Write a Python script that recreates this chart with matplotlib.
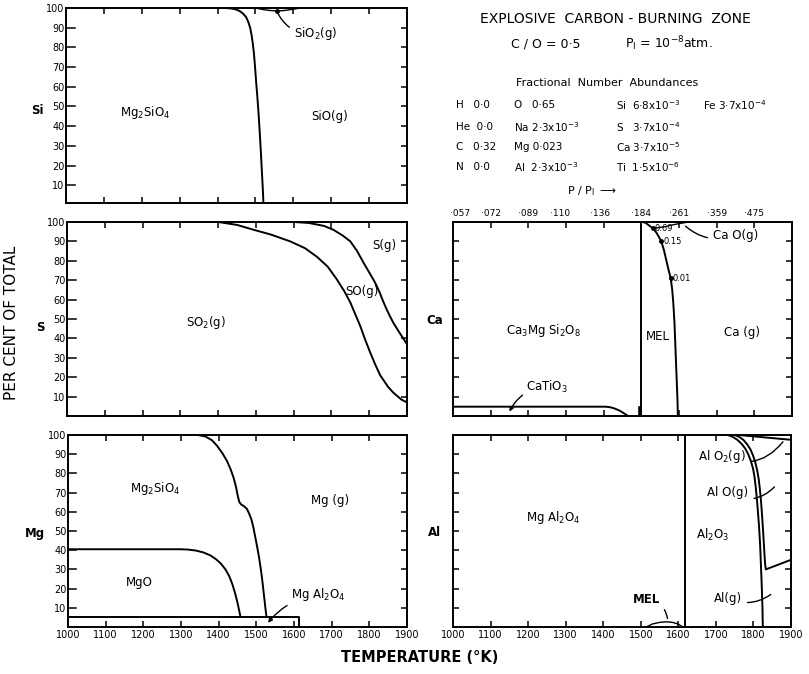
import matplotlib
matplotlib.use('Agg')
import matplotlib.pyplot as plt

plt.rcParams['font.family'] = ['DejaVu Sans']
plt.rcParams['mathtext.fontset'] = 'dejavusans'

# ---------------- data ----------------
temps = [1000, 1100, 1200, 1300, 1400, 1500, 1600, 1700, 1800, 1900]
pct_ticks = [10, 20, 30, 40, 50, 60, 70, 80, 90, 100]

# Si panel
si_bound_T = [1400, 1420, 1435, 1448, 1458, 1467, 1475, 1481, 1486, 1490, 1493, 1496, 1499,
              1502, 1505, 1508, 1511, 1514, 1517, 1520, 1521]
si_bound_P = [100, 100, 99.8, 99.3, 98.5, 97.2, 95.5, 93, 90, 86, 82, 77, 70,
              62, 55, 47, 38, 28, 17, 6, 1]
sio2_T = [1500, 1520, 1540, 1556, 1575, 1600, 1620]
sio2_P = [100, 99.2, 98.7, 98.5, 98.7, 99.4, 100]

# S panel
so_T = [1400, 1450, 1494, 1540, 1591, 1630, 1662, 1690, 1714, 1735, 1750, 1763, 1776, 1789,
        1802, 1816, 1829, 1850, 1864, 1885, 1900]
so_P = [100, 98.5, 96, 93.5, 90, 86.5, 82, 77, 70.5, 64, 58.5, 52.5, 46.5, 39.5,
        33, 26.5, 21, 15, 12, 8.5, 7]
sg_T = [1600, 1640, 1680, 1705, 1730, 1750, 1768, 1785, 1800, 1812, 1820, 1828, 1835, 1846,
        1856, 1864, 1880, 1900]
sg_P = [100, 99.5, 98, 96, 93, 90, 85, 79, 74, 70, 67, 63.5, 60, 55,
        51, 48, 43, 37]

# Mg panel
mg_gas_T = [1345, 1365, 1382, 1396, 1410, 1422, 1432, 1440, 1446, 1451, 1455, 1460, 1468,
            1475, 1481, 1487, 1492, 1497, 1502, 1507, 1512, 1516, 1520, 1524, 1527]
mg_gas_P = [100, 99.2, 97.3, 94.3, 90.5, 86.5, 82, 77.5, 73, 68, 65, 63.8, 62.8,
            61.5, 59, 56, 52, 47, 42, 36.5, 30, 24, 17, 10, 5.2]
mgo_T = [1000, 1300, 1320, 1340, 1360, 1378, 1393, 1406, 1418, 1428, 1436, 1443, 1449, 1454, 1458]
mgo_P = [40.5, 40.5, 40.3, 39.8, 38.8, 37.3, 35.3, 33, 30, 26.5, 22.5, 18, 13.5, 9, 5.2]
mgal_T = [1000, 1612, 1612]
mgal_P = [5.2, 5.2, 0]

# Ca panel
mel_T = [1498, 1498]
mel_P = [0, 100]
catio3_T = [1000, 1405, 1418, 1430, 1442, 1453, 1465]
catio3_P = [4.8, 4.8, 4.5, 3.8, 2.8, 1.5, 0]
cag_T = [1504, 1512, 1520, 1531, 1540, 1547, 1553, 1560, 1566, 1572, 1578, 1582, 1585,
         1588, 1590, 1592, 1594, 1596, 1597]
cag_P = [100, 99.5, 98.3, 96.7, 94.5, 92.2, 90, 85.5, 80.5, 75.5, 71, 65, 58,
         48, 38, 28, 18, 8, 0]
cao_T = [1531, 1560, 1590, 1610, 1625]
cao_P = [96.7, 97.5, 98.8, 99.5, 100]
ppi_T = [1553, 1531, 1578]
ppi_P = [90, 96.7, 71]
ppi_lab = ['0.15', '0.69', '0.01']
top_T = [1020, 1100, 1200, 1285, 1390, 1500, 1600, 1700, 1800]
top_lab = ['·057', '·072', '·089', '·110', '·136', '·184', '·261', '·359', '·475']

# Al panel
alwall_T = [1619, 1619]
alwall_P = [0, 100]
mellens_T = [1515, 1530, 1550, 1568, 1585, 1600, 1612]
mellens_P = [0, 1.5, 2.4, 2.7, 2.4, 1.5, 0]
alout_T = [1732, 1745, 1757, 1768, 1778, 1786, 1793, 1799, 1803, 1806, 1809, 1812, 1815,
           1818, 1820, 1822, 1824, 1825]
alout_P = [100, 99, 97.5, 95.5, 93, 90, 86.5, 82.5, 78, 73, 67, 60, 52,
           42, 32, 22, 10, 0]
alin_T = [1750, 1762, 1773, 1783, 1792, 1799, 1805, 1810, 1814, 1817, 1820, 1823, 1826,
          1829, 1831, 1833, 1900]
alin_P = [100, 99, 97.5, 95.2, 92.5, 89.3, 85.7, 81.5, 77, 72, 66, 58, 49,
          39, 33, 30, 35]
alo2_T = [1760, 1900]
alo2_P = [100, 97.5]

# ---------------- layout ----------------
W, H = 809, 674
fig = plt.figure(figsize=(W / 100, H / 100), dpi=100)


def px_axes(l, t, r, b):
    return fig.add_axes([l / W, 1 - b / H, (r - l) / W, (b - t) / H])


ax_si = px_axes(66, 8, 407, 203)
ax_s = px_axes(67, 222, 407, 416)
ax_mg = px_axes(68, 435, 407, 627)
ax_ca = px_axes(453, 222, 792, 416)
ax_al = px_axes(453, 435, 791, 627)

LW = 1.4
TK = 7
for ax in (ax_si, ax_s, ax_mg, ax_ca, ax_al):
    ax.set_xlim(temps[0], temps[-1])
    ax.set_ylim(0, 100)
    for sp in ax.spines.values():
        sp.set_linewidth(1.4)
    ax.set_xticks(temps[1:-1])
    ax.tick_params(axis='x', direction='in', top=True, bottom=True, length=4, width=1.1,
                   labelbottom=False, pad=2, labelsize=TK)
    ax.tick_params(axis='y', direction='in', left=True, right=True, length=4, width=1.1,
                   labelleft=False)
ax_si.set_ylim(1, 100)

for ax in (ax_si, ax_s, ax_mg):
    ax.set_yticks(pct_ticks)
    ax.tick_params(axis='y', which='both', labelleft=True, labelsize=TK, pad=1)
    ax.tick_params(axis='y', left=False)
    for v in pct_ticks[:-1]:
        ax.plot([0, 0.025], [v, v], transform=ax.get_yaxis_transform(), color='black',
                lw=1.1, clip_on=False)
for ax in (ax_ca, ax_al):
    ax.set_yticks(pct_ticks[:-1])

for ax in (ax_mg, ax_al):
    ax.set_xticks(temps)
    ax.tick_params(axis='x', labelbottom=True)
    for i in (0, -1):
        ax.xaxis.get_major_ticks()[i].tick1line.set_visible(False)
        ax.xaxis.get_major_ticks()[i].tick2line.set_visible(False)

kw = dict(color='black', lw=LW, solid_joinstyle='round')
fs = 8.5

# Si
ax_si.plot(si_bound_T, si_bound_P, **kw)
ax_si.plot(sio2_T, sio2_P, color='black', lw=1.0)
ax_si.plot([1556], [98.5], 'o', color='black', ms=2.5)
ax_si.annotate(r'SiO$_2$(g)', xy=(1556, 98.5), xytext=(1603, 87), fontsize=fs, va='center',
               arrowprops=dict(arrowstyle='-', color='black', lw=1.0, shrinkA=2, shrinkB=0,
                               connectionstyle='arc3,rad=-0.35'))
ax_si.text(1210, 47, r'Mg$_2$SiO$_4$', fontsize=fs, ha='center', va='center')
ax_si.text(1697, 45, 'SiO(g)', fontsize=fs, ha='center', va='center')

# S
ax_s.plot(so_T, so_P, **kw)
ax_s.plot(sg_T, sg_P, **kw)
ax_s.text(1840, 88, 'S(g)', fontsize=fs, ha='center', va='center')
ax_s.text(1782, 64, 'SO(g)', fontsize=fs, ha='center', va='center')
ax_s.text(1367, 48, r'SO$_2$(g)', fontsize=fs, ha='center', va='center')

# Mg
ax_mg.plot(mg_gas_T, mg_gas_P, **kw)
ax_mg.plot(mgo_T, mgo_P, **kw)
ax_mg.plot(mgal_T, mgal_P, **kw)
ax_mg.text(1232, 72, r'Mg$_2$SiO$_4$', fontsize=fs, ha='center', va='center')
ax_mg.text(1695, 66, 'Mg (g)', fontsize=fs, ha='center', va='center')
ax_mg.text(1190, 23, 'MgO', fontsize=fs, ha='center', va='center')
ax_mg.annotate(r'Mg Al$_2$O$_4$', xy=(1531, 2.2), xytext=(1592, 17), fontsize=fs, va='center',
               arrowprops=dict(arrowstyle='-|>', color='black', lw=1.0, mutation_scale=6,
                               shrinkA=1, shrinkB=0, connectionstyle='arc3,rad=0.2'))

# Ca
ax_ca.plot(mel_T, mel_P, **kw)
ax_ca.plot([1497, 1497], [0, 4], color='black', lw=2.6)
ax_ca.plot(catio3_T, catio3_P, **kw)
ax_ca.plot(cag_T, cag_P, **kw)
ax_ca.plot(cao_T, cao_P, color='black', lw=1.0)
ax_ca.plot(ppi_T, ppi_P, 'o', color='black', ms=2.5)
for t, p, s in zip(ppi_T, ppi_P, ppi_lab):
    ax_ca.text(t + 5, p, s, fontsize=6, va='center', ha='left')
ax_ca.annotate('Ca O(g)', xy=(1612, 98.8), xytext=(1690, 93), fontsize=fs, va='center',
               arrowprops=dict(arrowstyle='-', color='black', lw=1.0,
                               connectionstyle='arc3,rad=-0.3'))
ax_ca.annotate(r'CaTiO$_3$', xy=(1150, 2.2), xytext=(1195, 15), fontsize=fs, va='center',
               arrowprops=dict(arrowstyle='-|>', color='black', lw=1.0, mutation_scale=6,
                               shrinkA=1, shrinkB=0, connectionstyle='arc3,rad=0.3'))
ax_ca.text(1240, 44, r'Ca$_3$Mg Si$_2$O$_8$', fontsize=fs, ha='center', va='center')
ax_ca.text(1544, 41, 'MEL', fontsize=fs, ha='center', va='center')
ax_ca.text(1766, 43, 'Ca (g)', fontsize=fs, ha='center', va='center')
for t, s in zip(top_T, top_lab):
    ax_ca.text(t, 1.045, s, fontsize=6.5, ha='center', va='center',
               transform=ax_ca.get_xaxis_transform())

# Al
ax_al.plot(alwall_T, alwall_P, **kw)
ax_al.plot(mellens_T, mellens_P, color='black', lw=1.0)
ax_al.plot(alout_T, alout_P, **kw)
ax_al.plot(alin_T, alin_P, **kw)
ax_al.plot(alo2_T, alo2_P, **kw)
ann = dict(arrowstyle='-', color='black', lw=1.0)
ax_al.annotate(r'Al O$_2$(g)', xy=(1883, 97.6), xytext=(1715, 89), fontsize=fs, ha='center',
               va='center', arrowprops=dict(ann, connectionstyle='arc3,rad=0.4'))
ax_al.annotate('Al O(g)', xy=(1861, 74), xytext=(1732, 70), fontsize=fs, ha='center',
               va='center', arrowprops=dict(ann, connectionstyle='arc3,rad=0.4'))
ax_al.annotate('Al(g)', xy=(1852, 17.8), xytext=(1732, 15), fontsize=fs, ha='center',
               va='center', arrowprops=dict(ann, connectionstyle='arc3,rad=0.3'))
ax_al.annotate('MEL', xy=(1572, 3), xytext=(1515, 14.5), fontsize=fs, ha='center',
               va='center', fontweight='bold',
               arrowprops=dict(ann, connectionstyle='arc3,rad=-0.4'))
ax_al.text(1266, 57, r'Mg Al$_2$O$_4$', fontsize=fs, ha='center', va='center')
ax_al.text(1692, 48, r'Al$_2$O$_3$', fontsize=fs, ha='center', va='center')


# element labels
def ftext(x, y, s, **k):
    fig.text(x / W, 1 - y / H, s, **k)


el = dict(fontsize=8.5, fontweight='bold', ha='center', va='center')
ftext(37, 111, 'Si', **el)
ftext(40, 327, 'S', **el)
ftext(35, 533, 'Mg', **el)
ftext(435, 320, 'Ca', **el)
ftext(434, 532, 'Al', **el)

ftext(12, 323, 'PER CENT OF TOTAL', fontsize=11, rotation=90, ha='center', va='center')
ftext(420, 657, 'TEMPERATURE (°K)', fontsize=10.5, fontweight='bold', ha='center', va='center')

# header text
ftext(615, 19, 'EXPLOSIVE  CARBON - BURNING  ZONE', fontsize=10, ha='center', va='center')
ftext(546, 44, 'C / O = 0·5', fontsize=9, ha='center', va='center')
ftext(625, 44, r'P$_\mathrm{I}$ = 10$^{-8}$atm.', fontsize=9, ha='left', va='center')
ftext(607, 83, 'Fractional  Number  Abundances', fontsize=8, ha='center', va='center')

ab_col1 = ['H   0·0', 'He  0·0', 'C   0·32', 'N   0·0']
ab_col2 = ['O   0·65', r'Na 2·3x10$^{-3}$', 'Mg 0·023', r'Al  2·3x10$^{-3}$']
ab_col3 = [r'Si  6·8x10$^{-3}$', r'S   3·7x10$^{-4}$', r'Ca 3·7x10$^{-5}$', r'Ti  1·5x10$^{-6}$']
ab_col4 = [r'Fe 3·7x10$^{-4}$']
rows_y = [105, 127, 147, 167]
ab = dict(fontsize=7.5, ha='left', va='center')
for i, s in enumerate(ab_col1):
    ftext(456, rows_y[i], s, **ab)
for i, s in enumerate(ab_col2):
    ftext(514, rows_y[i], s, **ab)
for i, s in enumerate(ab_col3):
    ftext(616, rows_y[i], s, **ab)
for i, s in enumerate(ab_col4):
    ftext(703, rows_y[i], s, **ab)
ftext(567, 191, r'P / P$_\mathrm{I}$ $\longrightarrow$', fontsize=8, ha='left', va='center')

fig.savefig('out.png', dpi=100)
